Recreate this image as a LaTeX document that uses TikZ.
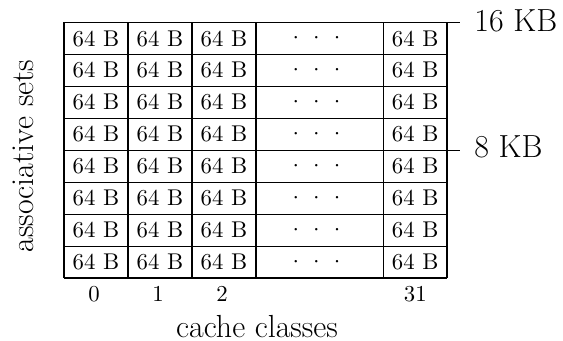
\documentclass[tikz,border=0pt]{standalone}
\begin{document}
\begin{tikzpicture}[x=0.4695pt, y=-0.4695pt,
  gridline/.style={line width=0.5pt, black},
  cell/.style={inner sep=0pt, font=\fontsize{10.7}{13}\selectfont},
  biglabel/.style={inner sep=0pt, font=\fontsize{15}{18}\selectfont}]
\path[use as bounding box] (0,0) rectangle (563,341);
% grid lines
\foreach \i in {0,...,8} {
  \draw[gridline] (64,{22.5+31.94*\i}) -- (447,{22.5+31.94*\i});
}
\foreach \xx in {64,128,192,256,383.5,447} {
  \draw[gridline] (\xx,22.5) -- (\xx,278);
}
% cells
\foreach \r in {0,...,7} {
  \foreach \xx/\c in {96/0,160/1,224/2,415.25/31} {
    \node[cell] (c\r-\c) at (\xx,{22.5+31.94*(\r+0.5)}) {64 B};
  }
  \node[cell] (d\r) at (316.5,{22.5+31.94*(\r+0.5)}) {$\cdotp\mkern8mu\cdotp\mkern8mu\cdotp$};
}
% column labels
\foreach \xx/\c in {94/0,158/1,222/2,415.25/31} {
  \node[cell] (col\c) at (\xx,294) {\c};
}
% ticks
\coordinate (t16a) at (447,22.5);
\coordinate (t16b) at (460,22.5);
\coordinate (t8a) at (447,150.26);
\coordinate (t8b) at (460,150.26);
\draw[gridline] (t16a) -- (t16b);
\draw[gridline] (t8a) -- (t8b);
\node[biglabel, anchor=west] (kb16) at (474,20.5) {16 KB};
\node[biglabel, anchor=west] (kb8) at (474,147) {8 KB};
% axis labels
\node[biglabel, anchor=base] (xlab) at (257,337) {cache classes};
\node[biglabel, anchor=base, rotate=90] (ylab) at (33,156) {associative sets};
\end{tikzpicture}
\end{document}
